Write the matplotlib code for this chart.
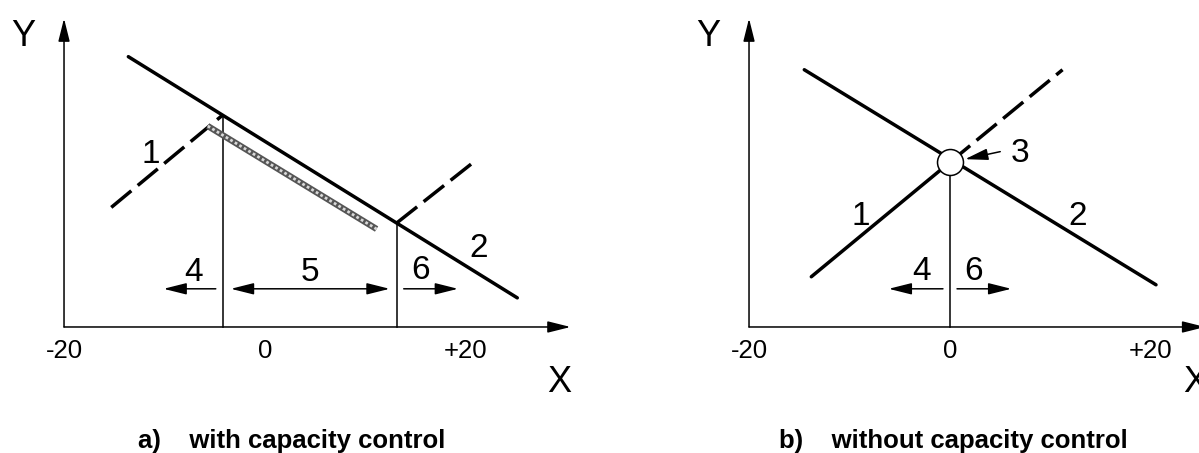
import matplotlib.pyplot as plt

plt.rcParams['font.family'] = ['Liberation Sans', 'DejaVu Sans']

# x in the units of the tick labels, y in the same scale, 0 = x axis
tick_pos = [-20, 0, 20]
tick_labels = ['-20', '0', '+20']
y_axis_top = 30.7
x_axis_end_a = 30.4
x_axis_end_b = 25.4

# a) with capacity control
line2_a_x = [-13.6, 25.1]
line2_a_y = [26.9, 2.9]
line1_a_left_x = [-15.3, -4.2]
line1_a_left_y = [11.9, 21.1]
line1_a_right_x = [13.1, 21.0]
line1_a_right_y = [10.35, 16.6]
limits_a_x = [-4.2, 13.1]
limits_a_y = [21.1, 10.35]
band_a_x = [-5.7, 11.1]
band_a_y = [20.0, 9.75]
arrows_a = [((-4.9, 3.8), (-10.1, 3.8)), ((13.8, 3.8), (19.2, 3.8))]
double_arrow_a = ((-3.4, 3.8), (12.4, 3.8))
labels_a = [('1', -11.4, 16.3), ('2', 21.3, 7.0), ('4', -7.1, 4.6),
            ('5', 4.5, 4.6), ('6', 15.5, 4.8)]

# b) without capacity control
line2_b_x = [-14.5, 20.5]
line2_b_y = [25.6, 4.2]
line1_b_x = [-13.8, 0.0]
line1_b_y = [5.0, 16.4]
line1_b_dash_x = [0.0, 11.2]
line1_b_dash_y = [16.4, 25.6]
cross_b = (0.0, 16.4)
arrows_b = [((-0.7, 3.8), (-6.1, 3.8)), ((0.7, 3.8), (6.1, 3.8)),
            ((5.0, 17.45), (1.5, 16.7))]
labels_b = [('1', -8.9, 10.15), ('2', 12.7, 10.15), ('3', 7.0, 16.4),
            ('4', -2.8, 4.7), ('6', 2.3, 4.7)]

captions = ['a)    with capacity control', 'b)    without capacity control']
caption_x = [2.7, 0.3]

thin = 1.1
thick = 2.5
dash = (7.5, 2.4)


def arrow(ax, start, tip, style='-|>'):
    ax.annotate('', xy=tip, xytext=start, annotation_clip=False,
                arrowprops=dict(arrowstyle=style + ',head_length=1.4,head_width=0.35',
                                mutation_scale=10, lw=thin, color='black',
                                shrinkA=0, shrinkB=0))


def frame(ax, x_end):
    arrow(ax, (tick_pos[0], 0), (x_end, 0))
    arrow(ax, (tick_pos[0], 0), (tick_pos[0], y_axis_top))
    for p, t in zip(tick_pos, tick_labels):
        ax.text(p, -3.13, t, ha='center', va='baseline', fontsize=18.5)
    ax.text(tick_pos[0] - 4.1, 27.96, 'Y', ha='center', va='baseline', fontsize=26)


fig = plt.figure(figsize=(11.99, 4.53), dpi=100)
ax1 = fig.add_axes([0, 0, 600 / 1199, 1])
ax2 = fig.add_axes([600 / 1199, 0, 599 / 1199, 1])
ax1.set_xlim(-26.37, 33.33)
ax2.set_xlim(-34.83, 24.78)
for ax in (ax1, ax2):
    ax.set_ylim(-12.54, 32.54)
    ax.axis('off')

# panel a
frame(ax1, x_axis_end_a)
ax1.text(29.3, -6.47, 'X', ha='center', va='baseline', fontsize=26)
ax1.plot(line2_a_x, line2_a_y, color='black', lw=thick, solid_capstyle='round')
ax1.plot(line1_a_left_x, line1_a_left_y, color='black', lw=thick, dashes=dash)
ax1.plot(line1_a_right_x, line1_a_right_y, color='black', lw=thick, dashes=dash)
for xv, yv in zip(limits_a_x, limits_a_y):
    ax1.plot([xv, xv], [0, yv], color='black', lw=thin)
ax1.plot(band_a_x, band_a_y, color='#555555', lw=4.5, solid_capstyle='butt')
ax1.plot(band_a_x, band_a_y, color='#d8d8d8', lw=2.0, dashes=(1.0, 0.9))
for s, t in arrows_a:
    arrow(ax1, s, t)
arrow(ax1, double_arrow_a[0], double_arrow_a[1], style='<|-|>')
for t, xv, yv in labels_a:
    ax1.text(xv, yv, t, ha='center', va='baseline', fontsize=24)
ax1.text(caption_x[0], -12.0, captions[0], ha='center', va='baseline',
         fontsize=18.5, fontweight='bold')

# panel b
frame(ax2, x_axis_end_b)
ax2.text(24.4, -6.47, 'X', ha='center', va='baseline', fontsize=26)
ax2.plot(line2_b_x, line2_b_y, color='black', lw=thick, solid_capstyle='round')
ax2.plot(line1_b_x, line1_b_y, color='black', lw=thick, solid_capstyle='round')
ax2.plot(line1_b_dash_x, line1_b_dash_y, color='black', lw=thick, dashes=dash)
ax2.plot([cross_b[0], cross_b[0]], [0, cross_b[1]], color='black', lw=thin)
ax2.plot(cross_b[0], cross_b[1], 'o', ms=18.7, mfc='white', mec='black', mew=thin, zorder=5)
for s, t in arrows_b:
    arrow(ax2, s, t)
for t, xv, yv in labels_b:
    ax2.text(xv, yv, t, ha='center', va='baseline', fontsize=24)
ax2.text(caption_x[1], -12.0, captions[1], ha='center', va='baseline',
         fontsize=18.5, fontweight='bold')

fig.savefig('out.png', dpi=100)
